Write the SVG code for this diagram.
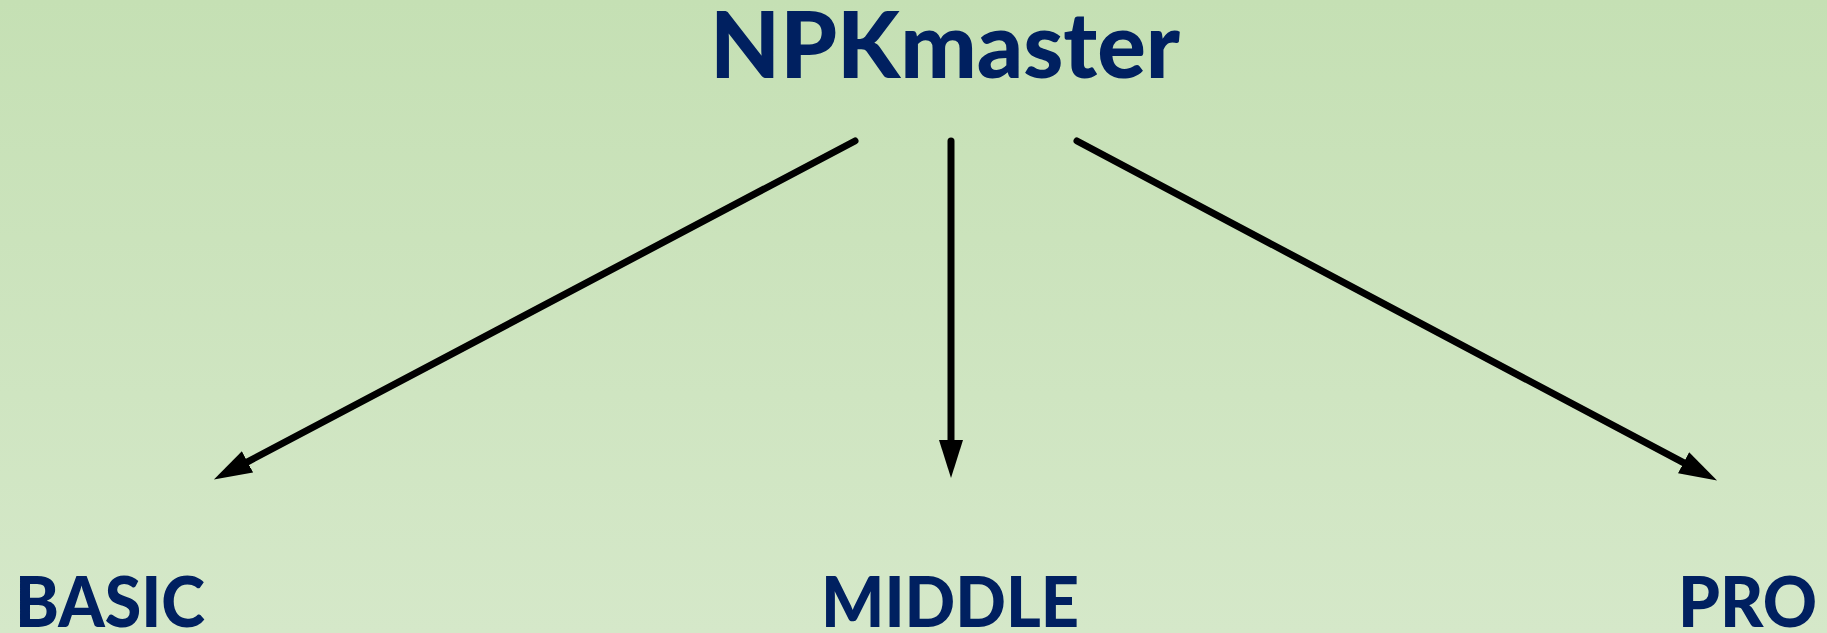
<svg xmlns="http://www.w3.org/2000/svg" width="1827" height="633" viewBox="0 0 1827 633">
  <defs>
    <linearGradient id="bg" x1="0" y1="0" x2="0" y2="1">
      <stop offset="0" stop-color="#c5e0b4"/>
      <stop offset="1" stop-color="#d5e8c9"/>
    </linearGradient>
    <marker id="head" markerUnits="userSpaceOnUse" markerWidth="39" markerHeight="25" viewBox="0 0 39 25" refX="1" refY="12.5" orient="auto">
      <path d="M0,0.5 L38,12.5 L0,24.5 Z" fill="#000"/>
    </marker>
  </defs>
  <style>
    .t { font-family: Lato, "Open Sans", "Liberation Sans", sans-serif; font-weight: 900; fill: #002060; }
    .title { font-size: 92px; }
    .lbl { font-size: 71px; }
    .c { fill: none; stroke: #000; stroke-width: 7; stroke-linecap: round; marker-end: url(#head); }
  </style>
  <rect width="1827" height="633" fill="url(#bg)"/>
  <g id="connectors">
    <line class="c" x1="855" y1="141" x2="246.6" y2="462.3"/>
    <line class="c" x1="951" y1="141" x2="951" y2="441"/>
    <line class="c" x1="1077" y1="141" x2="1684.4" y2="463.2"/>
  </g>
  <g id="node-npkmaster">
    <text class="t title" x="710" y="78" textLength="470" lengthAdjust="spacingAndGlyphs">NPKmaster</text>
  </g>
  <g id="node-basic">
    <text class="t lbl" x="15" y="627" textLength="190" lengthAdjust="spacingAndGlyphs">BASIC</text>
  </g>
  <g id="node-middle">
    <text class="t lbl" x="821" y="627" textLength="258" lengthAdjust="spacingAndGlyphs">MIDDLE</text>
  </g>
  <g id="node-pro">
    <text class="t lbl" x="1678" y="627" textLength="139" lengthAdjust="spacingAndGlyphs">PRO</text>
  </g>
</svg>
